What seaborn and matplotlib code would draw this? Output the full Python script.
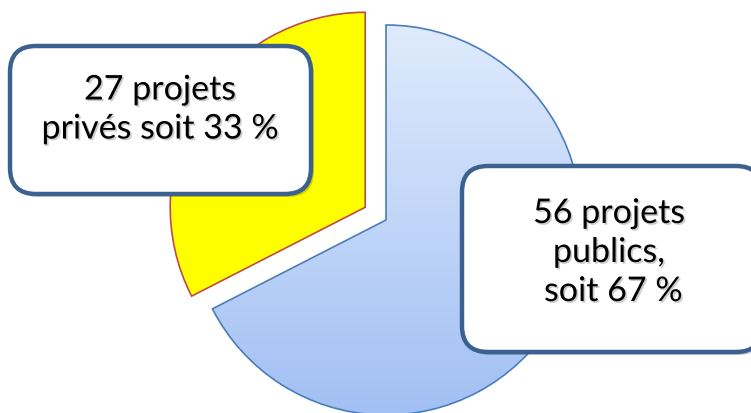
import numpy as np
import matplotlib
matplotlib.use('Agg')
import matplotlib.pyplot as plt
import matplotlib.patheffects as pe
from matplotlib.patches import FancyBboxPatch
import seaborn as sns

# Data
categories = ["publics", "privés"]
counts = [56, 27]
percents = [67, 33]
labels = ["56 projets\npublics,\n soit 67 %", "27 projets\nprivés soit 33 %"]

sns.set_theme(style="white")
plt.rcParams['font.family'] = ['Lato', 'DejaVu Sans']

W, H = 751, 413
fig = plt.figure(figsize=(W / 100, H / 100), dpi=100)
fig.patch.set_facecolor("white")

# pie axes: radius 1 = 195 px, centre at pixel (386, 220)
R = 195.0
cx, cy = 386.0, 220.0
ax = fig.add_axes([0, 0, 1, 1])
wedges, _ = ax.pie(counts, startangle=90, counterclock=False,
                   explode=[0, 0.125], radius=1,
                   colors=["none", "#FFFF00"],
                   wedgeprops=dict(linewidth=1.2))
wedges[0].set_edgecolor("#4A7EBB")
wedges[1].set_edgecolor("#BE4B48")
ax.set_xlim(-cx / R, (W - cx) / R)
ax.set_ylim(-(H - cy) / R, cy / R)
ax.set_aspect('auto')
ax.axis('off')

# vertical gradient fill of the blue slice
grad = np.linspace(0, 1, 256).reshape(-1, 1)
cmap = matplotlib.colors.LinearSegmentedColormap.from_list("bl", ["#A2C0F4", "#E0EBFC"])
img = ax.imshow(grad, cmap=cmap, origin='lower', extent=[-1.05, 1.05, -1.0, 1.02],
                aspect='auto', zorder=0.5, interpolation='bilinear')
img.set_clip_path(wedges[0])
wedges[0].set_zorder(1)

# overlay axes in pixel coords for the callout boxes
ov = fig.add_axes([0, 0, 1, 1])
ov.set_xlim(0, W)
ov.set_ylim(H, 0)
ov.axis('off')
ov.patch.set_alpha(0)

boxes = [(462, 166, 300, 186), (10, 46, 301, 148)]
text_pos = [(609, 252), (160, 109)]
for (x, y, w, h), (tx, ty), lab in zip(boxes, text_pos, labels):
    shadow = FancyBboxPatch((x + 3, y + 3), w, h, boxstyle="round,pad=0,rounding_size=26",
                            facecolor="#00000030", edgecolor="none", zorder=2)
    ov.add_patch(shadow)
    box = FancyBboxPatch((x, y), w, h, boxstyle="round,pad=0,rounding_size=26",
                         facecolor="white", edgecolor="#3C618F", linewidth=3.2, zorder=3)
    ov.add_patch(box)
    ov.text(tx, ty, lab, ha='center', va='center', fontsize=24.5, color="black",
            linespacing=1.27, zorder=4,
            path_effects=[pe.withSimplePatchShadow(offset=(1.2, -1.2), shadow_rgbFace="#999999", alpha=0.5)])

fig.savefig("out.png", dpi=100)
